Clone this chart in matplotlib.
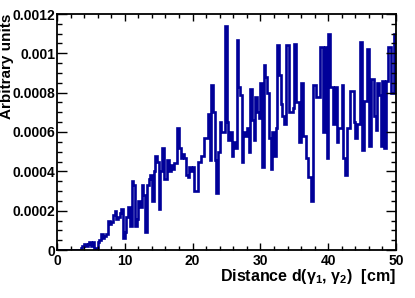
import matplotlib
matplotlib.use("Agg")
import matplotlib.pyplot as plt
from matplotlib.ticker import MultipleLocator, FuncFormatter
import numpy as np

plt.rcParams['font.family'] = ['Liberation Sans', 'DejaVu Sans']
plt.rcParams['font.weight'] = 'bold'
plt.rcParams['mathtext.default'] = 'regular'

# histogram: 200 bins of 0.25 cm from 0 to 50 cm
bin_edges = np.linspace(0, 50, 201)
counts = [
    # 0 - 5 cm
    0, 0, 0, 0, 0, 0, 0, 0, 0, 0, 0, 0, 0, 0, 0.00001, 0.00002, 0.00003, 0.00002, 0.00003, 0.00004,
    # 5 - 10 cm
    0.00002, 0.00004, 0.00001, 0.0, 0.00004, 0.00005, 0.00008, 0.00006, 0.00007, 0.00008,
    0.00015, 0.00013, 0.00014, 0.00018, 0.00020, 0.00016, 0.00017, 0.00019, 0.00021, 0.00006,
    # 10 - 15 cm
    0.00009, 0.00017, 0.00022, 0.00012, 0.00035, 0.00033, 0.00012, 0.00016, 0.00025, 0.00022,
    0.00033, 0.00028, 0.00009, 0.00033, 0.00036, 0.00038, 0.00025, 0.00040, 0.00048, 0.00045,
    # 15 - 20 cm
    0.00021, 0.00040, 0.00052, 0.00036, 0.00036, 0.00046, 0.00040, 0.00043, 0.00041, 0.00044,
    0.00044, 0.00062, 0.00052, 0.00047, 0.00049, 0.00047, 0.00038, 0.00037, 0.00042, 0.00040,
    # 20 - 25 cm
    0.00042, 0.00030, 0.00030, 0.00045, 0.00045, 0.00048, 0.00048, 0.00057, 0.00057, 0.00069,
    0.00046, 0.00084, 0.00070, 0.00046, 0.00029, 0.00050, 0.00065, 0.00060, 0.00060, 0.00114,
    # 25 - 30 cm
    0.00065, 0.00056, 0.00060, 0.00048, 0.00055, 0.00052, 0.00107, 0.00083, 0.00079, 0.00045,
    0.00060, 0.00058, 0.00062, 0.00050, 0.00082, 0.00066, 0.00056, 0.00078, 0.00070, 0.00067,
    # 30 - 35 cm
    0.00085, 0.00042, 0.00094, 0.00088, 0.00080, 0.00057, 0.00041, 0.00060, 0.00048, 0.00062,
    0.00104, 0.00089, 0.00074, 0.00068, 0.00064, 0.00104, 0.00104, 0.00070, 0.00070, 0.00072,
    # 35 - 40 cm
    0.00105, 0.00075, 0.00075, 0.00055, 0.00085, 0.00058, 0.00058, 0.00047, 0.00037, 0.00037,
    0.00025, 0.00084, 0.00084, 0.00078, 0.00078, 0.00103, 0.00103, 0.00060, 0.00103, 0.00047,
    # 40 - 45 cm
    0.00110, 0.00083, 0.00083, 0.00064, 0.00083, 0.00055, 0.00062, 0.00062, 0.00084, 0.00047,
    0.00038, 0.00062, 0.00062, 0.00081, 0.00081, 0.00065, 0.00057, 0.00064, 0.00064, 0.00106,
    # 45 - 50 cm
    0.00051, 0.00076, 0.00076, 0.00102, 0.00053, 0.00087, 0.00087, 0.00068, 0.00061, 0.00085,
    0.00079, 0.00053, 0.00086, 0.00052, 0.00086, 0.00103, 0.00103, 0.00080, 0.00080, 0.00110,
]

fig = plt.figure(figsize=(4.15, 2.98), dpi=100)
ax = fig.add_axes([57 / 415, 48 / 298, 339 / 415, 236 / 298])

ax.stairs(counts, bin_edges, baseline=None, color='#000099', lw=1.9)

ax.set_xlim(0, 50)
ax.set_ylim(0, 0.0012)
ax.xaxis.set_major_locator(MultipleLocator(10))
ax.xaxis.set_minor_locator(MultipleLocator(2))
ax.yaxis.set_major_locator(MultipleLocator(0.0002))
ax.yaxis.set_minor_locator(MultipleLocator(0.00005))
ax.yaxis.set_major_formatter(FuncFormatter(lambda v, p: '%g' % round(v, 6)))

ax.tick_params(which='both', direction='in', top=True, right=True, width=1.0,
               labelsize=10)
ax.tick_params(axis='x', which='major', length=5.2, pad=3)
ax.tick_params(axis='x', which='minor', length=2.6)
ax.tick_params(axis='y', which='major', length=7.3, pad=1.0)
ax.tick_params(axis='y', which='minor', length=3.6)
for s in ax.spines.values():
    s.set_linewidth(1.3)

ax.set_xlabel(r'Distance d($\gamma_{1}$, $\gamma_{2}$)  [cm]', loc='right',
              fontsize=11.5, fontweight='bold', labelpad=-1)
ax.set_ylabel('Arbitrary units', loc='top', fontsize=11, fontweight='bold')
ax.yaxis.set_label_coords(-0.128, 1.0)

fig.savefig('out.png', dpi=100)
